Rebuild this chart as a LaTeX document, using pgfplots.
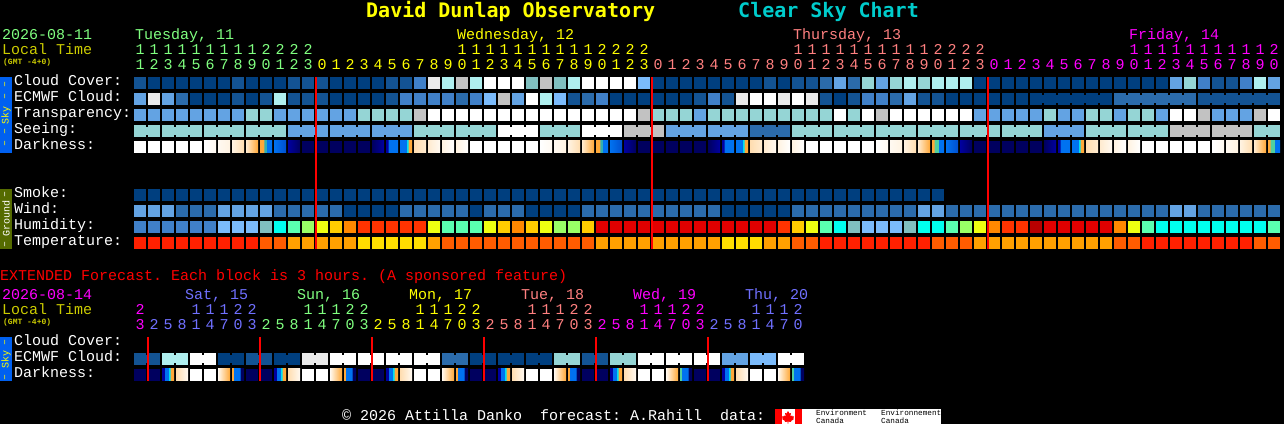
\documentclass[border=0pt]{standalone}
\usepackage{fontspec}
\usepackage{pgfplots}
\usepackage{pgfplotstable}
\pgfplotsset{compat=1.18}
\setmainfont{Liberation Mono}
\newfontfamily\titlefont{DejaVu Sans Mono}

\newcommand\lab{\fontsize{15bp}{15bp}\selectfont}
\newcommand\gmt{\bfseries\fontsize{8bp}{8bp}\selectfont}
\newcommand\side{\fontsize{10bp}{10bp}\selectfont}
\newcommand\bigt{\titlefont\bfseries\fontsize{20bp}{20bp}\selectfont}
\newcommand\envf{\fontsize{7.7bp}{8bp}\selectfont}
\tikzset{lab/.style={anchor=base west, inner sep=0pt, font=\lab}}

% darkness shades
\definecolor{dn}{HTML}{00005F}
\definecolor{d1}{HTML}{FFF9F1}
\definecolor{d2}{HTML}{FFF3E2}
\definecolor{d3}{HTML}{FFEBD0}
\definecolor{d4}{HTML}{FFDDB0}
\definecolor{dO}{HTML}{FFA838}
\definecolor{dT}{HTML}{30B0B0}
\definecolor{dM}{HTML}{50D0A0}
\definecolor{dC}{HTML}{00E0F0}
\definecolor{dB}{HTML}{0072F0}
\definecolor{dD}{HTML}{0050D0}
\definecolor{dV}{HTML}{0000A0}
% text
\definecolor{tgreen}{HTML}{80FF80}
\definecolor{tyell}{HTML}{FFFF00}
\definecolor{tsalm}{HTML}{FF8080}
\definecolor{tmag}{HTML}{FF00FF}
\definecolor{tblue}{HTML}{7070FF}
\definecolor{tcyan}{HTML}{00CCCC}
\definecolor{olive}{HTML}{CCCC00}
\definecolor{skybar}{HTML}{0060F0}
\definecolor{gndbar}{HTML}{556B00}

% one plot mark per class in the tables, picked by the point meta
\newcommand\solid[2]{%
  \definecolor{k#1}{HTML}{#2}%
  \pgfdeclareplotmark{m#1}{\pgfsetfillcolor{k#1}\pgfpathrectangle{\pgfpoint{-6bp}{-6bp}}{\pgfpoint{12bp}{12bp}}\pgfusepathqfill}}
\pgfdeclareplotmark{byclass}{\pgfuseplotmark{m\pgfplotspointmeta}}
\pgfdeclareplotmark{bridge}{\pgfpathrectangle{\pgfpoint{-1.5bp}{-4bp}}{\pgfpoint{3bp}{8bp}}\pgfusepathqfill}
% cloud / transparency / seeing scale
\solid{a}{003F7F}\solid{b}{135393}\solid{c}{2B6BAB}\solid{d}{4080C8}
\solid{e}{63A3E3}\solid{f}{7BBBFB}\solid{g}{80BFBF}\solid{h}{95D5D5}
\solid{i}{AFEFEF}\solid{j}{EAEAEA}\solid{l}{C2C2C2}\solid{w}{FFFFFF}\solid{o}{000000}
% humidity
\solid{q}{00FFEE}\solid{r}{5AFFB0}\solid{s}{99FF66}\solid{t}{EEFF11}
\solid{u}{FFCC00}\solid{v}{FF8800}\solid{x}{FF3300}\solid{y}{E00000}\solid{z}{B80000}
% temperature
\solid{R}{FF2000}\solid{O}{FF5C00}\solid{A}{FFA000}\solid{Y}{FFDD00}
\solid{n}{00005F}
% shaded cell, 25bp..75bp of the shading spans the 12 px of the block
\newcommand\shadecell[2]{%
  \pgfdeclarehorizontalshading{sh#1}{100bp}{#2}%
  \pgfdeclareplotmark{m#1}{\pgfpathrectangle{\pgfpoint{-6bp}{-6bp}}{\pgfpoint{12bp}{12bp}}\pgfshadepath{sh#1}{0}\pgfusepath{discard}}}
\newcommand\gradcell[3]{\shadecell{#1}{color(0bp)=(#2); color(25bp)=(#2); color(75bp)=(#3); color(100bp)=(#3)}}
\gradcell{D1}{white}{d1}
\gradcell{D2}{d1}{d2}
\gradcell{D3}{d2}{d4}
\gradcell{D4}{d3}{dO}
\shadecell{D5}{color(0bp)=(dO); color(41.6bp)=(dO); color(41.7bp)=(dT); color(50bp)=(dT); color(50.1bp)=(dB); color(100bp)=(dB)}
\shadecell{D5b}{color(0bp)=(dO); color(33.3bp)=(dO); color(33.4bp)=(dM); color(50bp)=(dM); color(50.1bp)=(dB); color(100bp)=(dB)}
\gradcell{D6}{dB}{dD}
\gradcell{N1}{dV}{dn}
\gradcell{N2}{dn}{dV}
\shadecell{D7}{color(0bp)=(dV); color(33.3bp)=(dV); color(33.4bp)=(dB); color(100bp)=(dB)}
\shadecell{D8}{color(0bp)=(dB); color(50bp)=(dB); color(50.1bp)=(dC); color(58.3bp)=(dC); color(58.4bp)=(dO); color(100bp)=(dO)}
\gradcell{D9}{d4}{d3}
\gradcell{D10}{d3}{d1}
\gradcell{D11}{d2}{white}
\shadecell{X1}{color(0bp)=(dV); color(37bp)=(dV); color(37.1bp)=(dB); color(52bp)=(dB); color(52.1bp)=(dC); color(58.3bp)=(dC); color(58.4bp)=(dO); color(100bp)=(dO)}
\gradcell{X2}{d4}{d1}
\gradcell{X3}{d1}{dO}
\shadecell{X4}{color(0bp)=(dO); color(33bp)=(dO); color(33.1bp)=(dB); color(58.3bp)=(dB); color(58.4bp)=(dn); color(100bp)=(dn)}
\shadecell{X5}{color(0bp)=(dM); color(33bp)=(dM); color(33.1bp)=(dB); color(58.3bp)=(dB); color(58.4bp)=(dn); color(100bp)=(dn)}

\pgfplotsset{
  blk/.style={x filter/.expression={140+14*x}},
  cells/.style={only marks, mark=byclass, scatter, blk, scatter src=explicit symbolic,
    scatter/@pre marker code/.code={}, scatter/@post marker code/.code={}},
  hours/.style={only marks, mark=none, blk, nodes near coords,
    point meta=explicit symbolic,
    nodes near coords style={anchor=base, inner sep=0pt, font=\lab}},
}
\newcommand\bridges[2]{\addplot[only marks, mark=bridge, blk, color=#1] coordinates {#2};}
\newcommand\hrs[2]{\addplot[hours, nodes near coords style={text=#1}] coordinates {#2};}
\newcommand\midnight[3]{\addplot[red, no markers, blk, line width=2bp, on layer=axis foreground] coordinates {(#1,#2)(#1,#3)};}

% hourly forecast, one line per block
\pgfplotstableread{
k cloud ecmwf trans seeing dark smoke wind humid temp
0 b e e h w a e d R
1 a j e h w a e d R
2 a e e h w a e d R
3 a c e h w a c d R
4 a a e h w a c d R
5 a a e h D1 a c d R
6 a a e h D2 a e f R
7 b b e h D3 a e f R
8 a a h h D4 a e f R
9 a b h h D5 a e g O
10 a i e h D6 a c q O
11 b b e e N1 a c r A
12 b b e e n a c s A
13 b b e e n a c t A
14 a a e e n a c u A
15 a a e e n a a v A
16 a a h e n a a x Y
17 a a h e N2 a a x Y
18 b b h e D7 a a x Y
19 b d h e D8 a c x Y
20 d d l h D9 a c x Y
21 j d w h D10 a c t A
22 i d w h D11 a c r O
23 l c w h D11 a c r O
24 i d w h w a a r O
25 w f w h w a c t O
26 w l w w w a c u O
27 w e w w w a c v O
28 g w w w w a a u O
29 l i w h D1 a a t O
30 g f w h D2 a a s O
31 i b w h D3 a a s O
32 w c w w D4 a c u O
33 w d w w D5 a c y A
34 w a w w D6 a c y A
35 w a w l N1 a c y A
36 f a l l n a c y A
37 a a h l n a c y A
38 a a h e n a c y A
39 a a h e n a c y A
40 a b e e n a c y A
41 a d h e N2 a c y A
42 a b h e D7 a a y Y
43 a j h e D8 a a y Y
44 a w h c D9 a a y Y
45 b w h c D10 a a y A
46 a j h c D11 a a x A
47 b w h h D11 a c u O
48 b j h h w a c t O
49 c b h h w a c r R
50 e a w h w a c q R
51 c b h h w a c g R
52 h d w h w a c f R
53 e d l h D1 a c f R
54 h c w h D2 a c f R
55 i e w h D3 a c g R
56 h b w h D4 a e q R
57 i b w h D5b a e q O
58 i a w h D6 o c r O
59 i a w h N1 o c s O
60 a a e h n o c t A
61 a a e h n o c v A
62 a a e h n o c x A
63 a a e h n o c x A
64 a a e h n o c z A
65 a a h e N2 o c y A
66 a a e e D7 o c y A
67 a a e e D8 o c y A
68 a a h h D9 o c y A
69 a a h h D10 o c y A
70 a c e h D11 o c v O
71 a c h h D11 o c t O
72 a c h h w o c r R
73 a c e h w o c q R
74 e c w l w o e q R
75 h c w l w o e q R
76 d b l l w o c q R
77 b b e l D1 o c q R
78 b b e l D2 o c q R
79 d b e l D3 o c q R
80 i b l h D4 o c q O
81 e b w h D5b o c r O
}\hourly

% extended forecast, 3 hours per block
\pgfplotstableread{
k ecmwf dark
0 b n
1 b n
2 i X1
3 i X2
4 w w
5 w w
6 a X3
7 a X4
8 b n
9 b n
10 a X1
11 a X2
12 j w
13 j w
14 w X3
15 w X4
16 w n
17 w n
18 w X1
19 w X2
20 w w
21 w w
22 c X3
23 c X4
24 a n
25 a n
26 a X1
27 a X2
28 a w
29 a w
30 h X3
31 h X4
32 b n
33 b n
34 h X1
35 h X2
36 w w
37 w w
38 w X3
39 w X5
40 w n
41 w n
42 e X1
43 e X2
44 f w
45 f w
46 w X3
47 w X5
}\extended

\begin{document}
\frenchspacing
\begin{tikzpicture}
\begin{axis}[
    scale only axis, width=1284bp, height=424bp,
    xmin=0, xmax=1284, ymin=0, ymax=424, y dir=reverse,
    hide axis, clip=false, set layers=standard,
    axis background/.style={fill=black},
]
% side bars
\fill[skybar] (axis cs:0,77) rectangle (axis cs:12,153);
\fill[gndbar] (axis cs:0,189) rectangle (axis cs:12,249);
\fill[skybar] (axis cs:0,337) rectangle (axis cs:12,381);

% block rows
\addplot[cells] table[x=k, y expr=83, meta=cloud] {\hourly};
\addplot[cells] table[x=k, y expr=99, meta=ecmwf] {\hourly};
\addplot[cells] table[x=k, y expr=115, meta=trans] {\hourly};
\addplot[cells] table[x=k, y expr=131, meta=seeing] {\hourly};
\addplot[cells] table[x=k, y expr=147, meta=dark] {\hourly};
\addplot[cells] table[x=k, y expr=195, meta=smoke] {\hourly};
\addplot[cells] table[x=k, y expr=211, meta=wind] {\hourly};
\addplot[cells] table[x=k, y expr=227, meta=humid] {\hourly};
\addplot[cells] table[x=k, y expr=243, meta=temp] {\hourly};
\addplot[cells] table[x=k, y expr=359, meta=ecmwf] {\extended};
\addplot[cells] table[x=k, y expr=375, meta=dark] {\extended};

% notched joins where a value spans several blocks
\bridges{kh}{(0.5,131)(2.5,131)(3.5,131)(5.5,131)(6.5,131)(8.5,131)(9.5,131)(20.5,131)(21.5,131)(23.5,131)(24.5,131)(29.5,131)(30.5,131)(47.5,131)(48.5,131)(50.5,131)(51.5,131)(53.5,131)(54.5,131)(56.5,131)(57.5,131)(59.5,131)(60.5,131)(62.5,131)(63.5,131)(68.5,131)(69.5,131)(71.5,131)(72.5,131)(80.5,131)}
\bridges{ke}{(11.5,131)(12.5,131)(14.5,131)(15.5,131)(17.5,131)(18.5,131)(38.5,131)(39.5,131)(41.5,131)(42.5,131)(65.5,131)(66.5,131)}
\bridges{white}{(26.5,131)(27.5,131)(32.5,131)(33.5,131)}
\bridges{kl}{(35.5,131)(36.5,131)(74.5,131)(75.5,131)(77.5,131)(78.5,131)}
\bridges{kc}{(44.5,131)(45.5,131)}
\bridges{ka}{(64.5,99)(65.5,99)(66.5,99)(67.5,99)(68.5,99)}
\bridges{kc}{(70.5,99)(71.5,99)(72.5,99)(73.5,99)(74.5,99)}
\bridges{kb}{(76.5,99)(77.5,99)(78.5,99)(79.5,99)(80.5,99)}
\bridges{kb}{(0.5,359)(8.5,359)(32.5,359)}
\bridges{ki}{(2.5,359)}
\bridges{white}{(4.5,359)(14.5,359)(16.5,359)(18.5,359)(20.5,359)(36.5,359)(38.5,359)(40.5,359)(46.5,359)}
\bridges{ka}{(6.5,359)(10.5,359)(24.5,359)(26.5,359)(28.5,359)}
\bridges{kj}{(12.5,359)}
\bridges{kc}{(22.5,359)}
\bridges{kh}{(30.5,359)(34.5,359)}
\bridges{ke}{(42.5,359)}
\bridges{kf}{(44.5,359)}

% midnight markers, in block units
\midnight{12.57143}{77}{249}
\midnight{36.57143}{77}{249}
\midnight{60.57143}{77}{249}
\midnight{0.57143}{337}{381}
\midnight{8.57143}{337}{381}
\midnight{16.57143}{337}{381}
\midnight{24.57143}{337}{381}
\midnight{32.57143}{337}{381}
\midnight{40.57143}{337}{381}

% hour digits
\hrs{tgreen}{(0,55)[1](1,55)[1](2,55)[1](3,55)[1](4,55)[1](5,55)[1](6,55)[1](7,55)[1](8,55)[1](9,55)[2](10,55)[2](11,55)[2](12,55)[2]
 (0,70)[1](1,70)[2](2,70)[3](3,70)[4](4,70)[5](5,70)[6](6,70)[7](7,70)[8](8,70)[9](9,70)[0](10,70)[1](11,70)[2](12,70)[3]}
\hrs{tyell}{(23,55)[1](24,55)[1](25,55)[1](26,55)[1](27,55)[1](28,55)[1](29,55)[1](30,55)[1](31,55)[1](32,55)[1](33,55)[2](34,55)[2](35,55)[2](36,55)[2]
 (13,70)[0](14,70)[1](15,70)[2](16,70)[3](17,70)[4](18,70)[5](19,70)[6](20,70)[7](21,70)[8](22,70)[9](23,70)[0](24,70)[1](25,70)[2](26,70)[3](27,70)[4](28,70)[5](29,70)[6](30,70)[7](31,70)[8](32,70)[9](33,70)[0](34,70)[1](35,70)[2](36,70)[3]}
\hrs{tsalm}{(47,55)[1](48,55)[1](49,55)[1](50,55)[1](51,55)[1](52,55)[1](53,55)[1](54,55)[1](55,55)[1](56,55)[1](57,55)[2](58,55)[2](59,55)[2](60,55)[2]
 (37,70)[0](38,70)[1](39,70)[2](40,70)[3](41,70)[4](42,70)[5](43,70)[6](44,70)[7](45,70)[8](46,70)[9](47,70)[0](48,70)[1](49,70)[2](50,70)[3](51,70)[4](52,70)[5](53,70)[6](54,70)[7](55,70)[8](56,70)[9](57,70)[0](58,70)[1](59,70)[2](60,70)[3]}
\hrs{tmag}{(71,55)[1](72,55)[1](73,55)[1](74,55)[1](75,55)[1](76,55)[1](77,55)[1](78,55)[1](79,55)[1](80,55)[1](81,55)[2]
 (61,70)[0](62,70)[1](63,70)[2](64,70)[3](65,70)[4](66,70)[5](67,70)[6](68,70)[7](69,70)[8](70,70)[9](71,70)[0](72,70)[1](73,70)[2](74,70)[3](75,70)[4](76,70)[5](77,70)[6](78,70)[7](79,70)[8](80,70)[9](81,70)[0]}
\hrs{tmag}{(0,315)[2](0,330)[3](36,315)[1](37,315)[1](38,315)[1](39,315)[2](40,315)[2]
 (33,330)[2](34,330)[5](35,330)[8](36,330)[1](37,330)[4](38,330)[7](39,330)[0](40,330)[3]}
\hrs{tblue}{(4,315)[1](5,315)[1](6,315)[1](7,315)[2](8,315)[2]
 (1,330)[2](2,330)[5](3,330)[8](4,330)[1](5,330)[4](6,330)[7](7,330)[0](8,330)[3]
 (44,315)[1](45,315)[1](46,315)[1](47,315)[2]
 (41,330)[2](42,330)[5](43,330)[8](44,330)[1](45,330)[4](46,330)[7](47,330)[0]}
\hrs{tgreen}{(12,315)[1](13,315)[1](14,315)[1](15,315)[2](16,315)[2]
 (9,330)[2](10,330)[5](11,330)[8](12,330)[1](13,330)[4](14,330)[7](15,330)[0](16,330)[3]}
\hrs{tyell}{(20,315)[1](21,315)[1](22,315)[1](23,315)[2](24,315)[2]
 (17,330)[2](18,330)[5](19,330)[8](20,330)[1](21,330)[4](22,330)[7](23,330)[0](24,330)[3]}
\hrs{tsalm}{(28,315)[1](29,315)[1](30,315)[1](31,315)[2](32,315)[2]
 (25,330)[2](26,330)[5](27,330)[8](28,330)[1](29,330)[4](30,330)[7](31,330)[0](32,330)[3]}

% titles
\node[lab, font=\bigt, text=tyell] at (axis cs:366,18) {David Dunlap Observatory};
\node[lab, font=\bigt, text=tcyan] at (axis cs:738,18) {Clear Sky Chart};

% top block heads
\node[lab, text=tgreen] at (axis cs:2,40) {2026-08-11};
\node[lab, text=olive] at (axis cs:2,55) {Local Time};
\node[lab, font=\gmt, text=olive] at (axis cs:3,65) {(GMT -4+0)};
\node[lab, text=tgreen] at (axis cs:135,40) {Tuesday, 11};
\node[lab, text=tyell] at (axis cs:457,40) {Wednesday, 12};
\node[lab, text=tsalm] at (axis cs:793,40) {Thursday, 13};
\node[lab, text=tmag] at (axis cs:1129,40) {Friday, 14};

% row labels
\node[lab, text=white] at (axis cs:14,86) {Cloud Cover:};
\node[lab, text=white] at (axis cs:14,102) {ECMWF Cloud:};
\node[lab, text=white] at (axis cs:14,118) {Transparency:};
\node[lab, text=white] at (axis cs:14,134) {Seeing:};
\node[lab, text=white] at (axis cs:14,150) {Darkness:};
\node[lab, text=white] at (axis cs:14,198) {Smoke:};
\node[lab, text=white] at (axis cs:14,214) {Wind:};
\node[lab, text=white] at (axis cs:14,230) {Humidity:};
\node[lab, text=white] at (axis cs:14,246) {Temperature:};

% side bar text
\node[rotate=90, inner sep=0pt, font=\side, text=tyell] at (axis cs:6,116) {Sky};
\node[rotate=90, inner sep=0pt, font=\side, text=tyell] at (axis cs:6,91) {– –};
\node[rotate=90, inner sep=0pt, font=\side, text=tyell] at (axis cs:6,138) {– –};
\node[rotate=90, inner sep=0pt, font=\side, text=white] at (axis cs:6,219) {Ground};
\node[rotate=90, inner sep=0pt, font=\side, text=white] at (axis cs:6,195) {–};
\node[rotate=90, inner sep=0pt, font=\side, text=white] at (axis cs:6,245) {–};
\node[rotate=90, inner sep=0pt, font=\side, text=tyell] at (axis cs:6,359) {Sky};
\node[rotate=90, inner sep=0pt, font=\side, text=tyell] at (axis cs:6,343) {–};
\node[rotate=90, inner sep=0pt, font=\side, text=tyell] at (axis cs:6,378) {–};

% extended part
\node[lab, text=red] at (axis cs:0,281) {EXTENDED Forecast. Each block is 3 hours. (A sponsored feature)};
\node[lab, text=tmag] at (axis cs:2,300) {2026-08-14};
\node[lab, text=olive] at (axis cs:2,315) {Local Time};
\node[lab, font=\gmt, text=olive] at (axis cs:3,325) {(GMT -4+0)};
\node[lab, text=tblue] at (axis cs:185,300) {Sat, 15};
\node[lab, text=tgreen] at (axis cs:297,300) {Sun, 16};
\node[lab, text=tyell] at (axis cs:409,300) {Mon, 17};
\node[lab, text=tsalm] at (axis cs:521,300) {Tue, 18};
\node[lab, text=tmag] at (axis cs:633,300) {Wed, 19};
\node[lab, text=tblue] at (axis cs:745,300) {Thu, 20};
\node[lab, text=white] at (axis cs:14,346) {Cloud Cover:};
\node[lab, text=white] at (axis cs:14,362) {ECMWF Cloud:};
\node[lab, text=white] at (axis cs:14,378) {Darkness:};

% footer
\node[lab, text=white] at (axis cs:342,420) {© 2026 Attilla Danko\ \ forecast: A.Rahill\ \ data:};
\fill[white] (axis cs:775,409) rectangle (axis cs:941,424);
\fill[red] (axis cs:775,409) rectangle (axis cs:782,424);
\fill[red] (axis cs:795,409) rectangle (axis cs:802,424);
\fill[red] (axis cs:788,411) -- (axis cs:789.5,413.5) -- (axis cs:791,413) -- (axis cs:790.3,416.5) -- (axis cs:792,415.5) -- (axis cs:792.5,416.5) -- (axis cs:794,416.3) -- (axis cs:793.3,418.5) -- (axis cs:794,419) -- (axis cs:791,421) -- (axis cs:791.2,422) -- (axis cs:788.4,421.6) -- (axis cs:788.4,423.5) -- (axis cs:787.6,423.5) -- (axis cs:787.6,421.6) -- (axis cs:784.8,422) -- (axis cs:785,421) -- (axis cs:782,419) -- (axis cs:782.7,418.5) -- (axis cs:782,416.3) -- (axis cs:783.5,416.5) -- (axis cs:784,415.5) -- (axis cs:785.7,416.5) -- (axis cs:785,413) -- (axis cs:786.5,413.5) -- cycle;
\node[lab, font=\envf, text=black] at (axis cs:816,415.5) {Environment};
\node[lab, font=\envf, text=black] at (axis cs:816,423) {Canada};
\node[lab, font=\envf, text=black] at (axis cs:881,415.5) {Environnement};
\node[lab, font=\envf, text=black] at (axis cs:881,423) {Canada};
\end{axis}
\end{tikzpicture}
\end{document}
